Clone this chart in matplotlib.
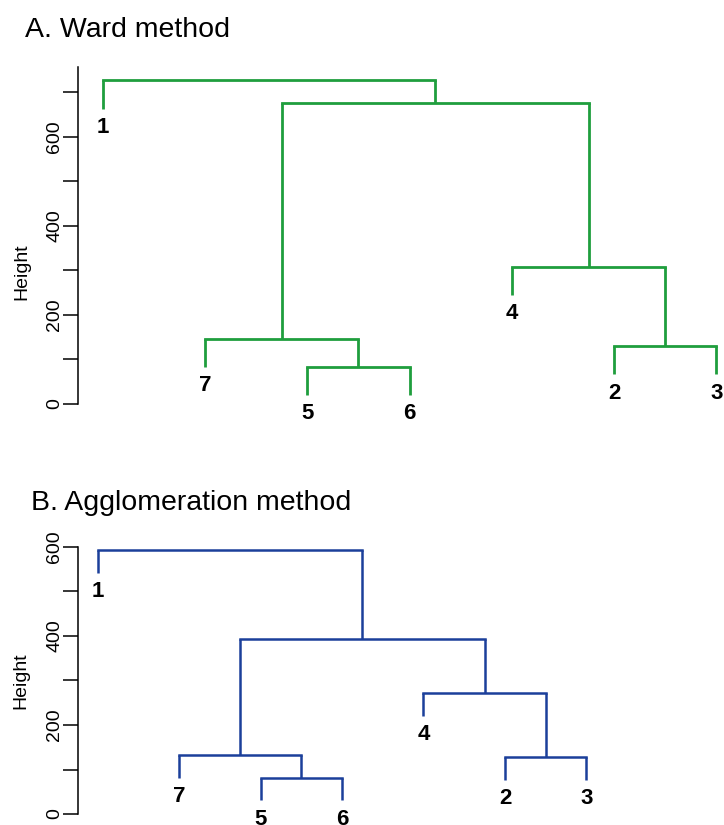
import matplotlib.pyplot as plt
import numpy as np

plt.rcParams['font.family'] = ['Liberation Sans', 'DejaVu Sans']

# leaf order along the x axis (left to right)
leaf_order = [1, 7, 5, 6, 4, 2, 3]

# merge steps, R style: negative = leaf, positive = earlier step (1-based)
merge = [(-5, -6), (-2, -3), (-7, 1), (-4, 2), (3, 4), (-1, 5)]

ward_heights = [83, 130, 146, 308, 676, 727]
aggl_heights = [82, 127, 133, 271, 393, 593]

ward_ticks = [0, 100, 200, 300, 400, 500, 600, 700]
aggl_ticks = [0, 100, 200, 300, 400, 500, 600]
tick_labels_shown = [0, 200, 400, 600]

GREEN = "#1f9e3d"
BLUE = "#1b3f9a"

W, H = 724, 825
DPI = 100


def px_axes(fig, left, right, top, bottom):
    """axes from pixel box (top/bottom measured from top of figure)."""
    return fig.add_axes([left / W, 1 - bottom / H, (right - left) / W,
                         (bottom - top) / H])


def draw_dendro(ax, heights, color, lw):
    pos = {leaf: i + 1 for i, leaf in enumerate(leaf_order)}
    hang = 0.1 * (max(heights) - min(heights))
    node_x = {}
    node_h = {}
    for step, (a, b) in enumerate(merge, start=1):
        h = heights[step - 1]
        xs = []
        for child in (a, b):
            if child < 0:
                x = pos[-child]
                y0 = h - hang
                ax.annotate(str(-child), (x, y0), xytext=(0, -13.5),
                            textcoords="offset points", ha="center",
                            va="center", fontsize=16, fontweight="bold",
                            annotation_clip=False)
            else:
                x = node_x[child]
                y0 = node_h[child]
            ax.plot([x, x], [y0, h], color=color, lw=lw,
                    solid_capstyle="butt", clip_on=False)
            xs.append(x)
        ax.plot(xs, [h, h], color=color, lw=lw, solid_capstyle="projecting",
                clip_on=False)
        node_x[step] = np.mean(xs)
        node_h[step] = h


def style_axis(ax, ticks, top_bound):
    for s in ["top", "right", "bottom"]:
        ax.spines[s].set_visible(False)
    ax.spines["left"].set_bounds(0, top_bound)
    ax.spines["left"].set_linewidth(1.1)
    ax.set_xticks([])
    ax.set_yticks(ticks)
    ax.set_yticklabels([str(t) if t in tick_labels_shown else ""
                        for t in ticks], rotation=90, va="center",
                       fontsize=14)
    ax.tick_params(axis="y", length=10.8, width=1.1, pad=0)


fig = plt.figure(figsize=(W / DPI, H / DPI), dpi=DPI)

# --- A. Ward method ---
ax1 = px_axes(fig, 78, 741, 60, 430)
draw_dendro(ax1, ward_heights, GREEN, 2.0)
ax1.set_xlim(0.76, 7.24)
ax1.set_ylim(-59.6, 772.8)
style_axis(ax1, ward_ticks, 757)
fig.text(25 / W, 1 - 36.7 / H, "A. Ward method", fontsize=20.5,
         ha="left", va="baseline")
fig.text(22 / W, 1 - 272 / H, "Height", fontsize=14, rotation=90,
         ha="center", va="center")

# --- B. Agglomeration method ---
ax2 = px_axes(fig, 78, 606, 540, 825)
draw_dendro(ax2, aggl_heights, BLUE, 1.8)
ax2.set_xlim(0.76, 7.24)
ax2.set_ylim(-24.7, 615.7)
style_axis(ax2, aggl_ticks, 600)
fig.text(30.7 / W, 1 - 510 / H, "B. Agglomeration method", fontsize=20.5,
         ha="left", va="baseline")
fig.text(21 / W, 1 - 681 / H, "Height", fontsize=14, rotation=90,
         ha="center", va="center")

fig.savefig("out.png", dpi=DPI)
